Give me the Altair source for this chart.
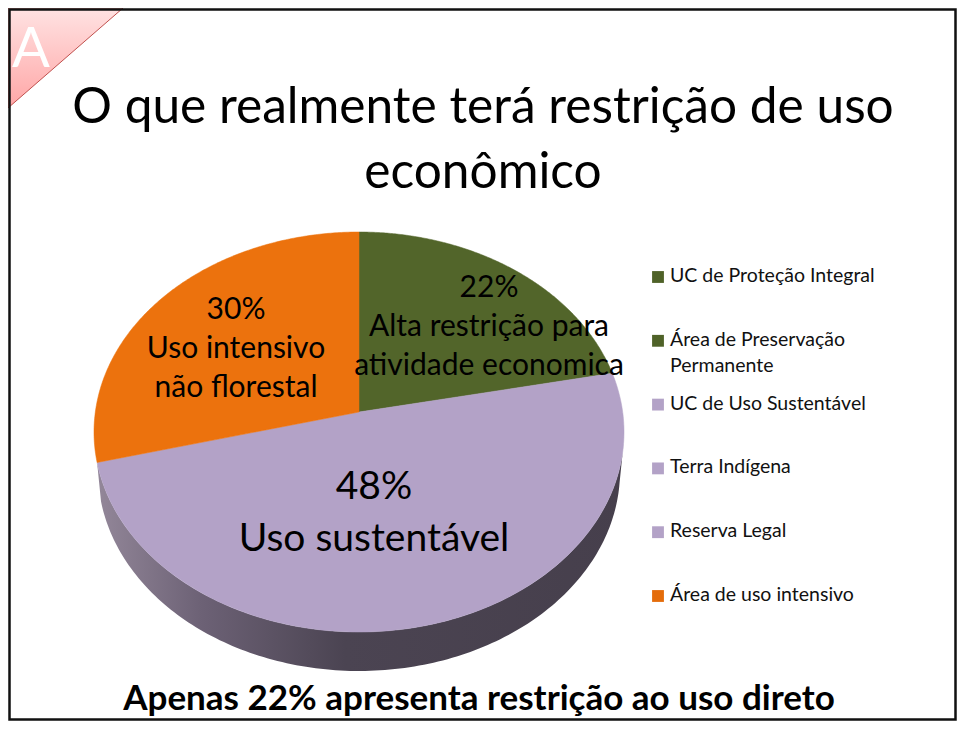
import numpy as np
import pandas as pd
import altair as alt

FONT = "Lato"
# ---- values
slice_names = ["Alta restrição", "Uso sustentável", "Uso intensivo"]
slice_shares = [21.8, 49.2, 29.0]
slice_colors = ["#52652a", "#b3a2c7", "#ec720d"]
legend_names = ["UC de Proteção Integral", "Área de Preservação\nPermanente", "UC de Uso Sustentável",
                "Terra Indígena", "Reserva Legal", "Área de uso intensivo"]
legend_colors = ["#4f6228", "#4f6228", "#b3a2c7", "#b3a2c7", "#b3a2c7", "#e46c0a"]
title_text = "O que realmente terá restrição de uso\neconômico"
footer_text = "Apenas 22% apresenta restrição ao uso direto"
label_22 = "22%\nAlta restrição para\natividade economica"
label_30 = "30%\nUso intensivo\nnão florestal"
label_48 = "48%\nUso sustentável"
corner_letter = "A"

W, H = 949, 713
OX, OY = 8, 8
K = 0.1            # perspective of the tilted disc


def project(theta_deg, shrink=1.0, drop=0.0):
    t = np.radians(theta_deg)
    X, Y = np.sin(t), -np.cos(t)
    w = 1 - K * Y
    return shrink * np.sqrt(0.99) * X / w, 0.99 * Y / w - K + drop


xs = alt.Scale(domain=[-1, 1], range=[94 - OX, 624 - OX])
ys = alt.Scale(domain=[-1, 1], range=[232 - OY, 632 - OY])
X = alt.X("x:Q", scale=xs, axis=None)
Y = alt.Y("y:Q", scale=ys, axis=None)

edges = np.cumsum([0] + slice_shares) * 3.6
layers = []

# side wall
a0, a1 = 99.0, edges[2]
th = np.linspace(a0, a1, 160)
tx, ty = project(th)
bx, by = project(th, 0.985, 0.195)
wall = pd.DataFrame({"x": np.r_[tx, bx[::-1], tx[0]], "y": np.r_[ty, by[::-1], ty[0]]})
wall["i"] = range(len(wall))
grad = alt.LinearGradient(gradient="linear", x1=0, x2=1, y1=0, y2=0, stops=[
    alt.GradientStop(color="#938799", offset=0), alt.GradientStop(color="#6c6175", offset=0.2),
    alt.GradientStop(color="#4b4452", offset=0.47), alt.GradientStop(color="#463f4c", offset=1)])
layers.append(alt.Chart(wall).mark_line(fill=grad, strokeWidth=0, interpolate="linear")
              .encode(x=X, y=Y, order="i:Q"))

# wedges
for i, (name, col) in enumerate(zip(slice_names, slice_colors)):
    th = np.linspace(edges[i], edges[i + 1], 200)
    ax, ay = project(th)
    hx, hy = 0.0, -K
    d = pd.DataFrame({"x": np.r_[hx, ax, hx], "y": np.r_[hy, ay, hy], "name": name})
    d["i"] = range(len(d))
    layers.append(alt.Chart(d).mark_line(fill=col, stroke=col, strokeWidth=0.5)
                  .encode(x=X, y=Y, order="i:Q", detail="name:N"))

# corner flag (page furniture, raw pixels)
flag = pd.DataFrame({"x": [0, 115, 0, 0], "y": [0, 0, 100, 0], "i": range(4)})
flag_grad = alt.LinearGradient(gradient="linear", x1=0, x2=0, y1=0, y2=1, stops=[
    alt.GradientStop(color="#ffe2e2", offset=0), alt.GradientStop(color="#ffa6a6", offset=1)])
layers.append(alt.Chart(flag).mark_line(fill=flag_grad, stroke="#c0504d", strokeWidth=1)
              .encode(x=alt.X("x:Q", scale=None, axis=None), y=alt.Y("y:Q", scale=None, axis=None), order="i:Q"))

# frame
one = pd.DataFrame({"a": [1]})
layers.append(alt.Chart(one).mark_rect(fillOpacity=0, stroke="#111111", strokeWidth=2.5)
              .encode(x=alt.value(1.5), x2=alt.value(947.5), y=alt.value(1.5), y2=alt.value(711.5)))


def txt(text, x, y, size, **kw):
    return alt.Chart(pd.DataFrame({"t": [text]})).mark_text(
        font=FONT, fontSize=size, lineBreak="\n", align="center", baseline="middle", **kw
    ).encode(text="t:N", x=alt.value(x - OX), y=alt.value(y - OY))


layers += [
    txt(corner_letter, 31, 50, 56, color="white"),
    txt(title_text, 483, 108, 49.6, lineHeight=65, color="black"),
    txt(label_22, 489, 288, 30, lineHeight=39, color="black"),
    txt(label_30, 236, 310, 30, lineHeight=39, color="black"),
    txt(label_48, 374, 487, 39, lineHeight=52, color="black"),
    txt(footer_text, 479, 699, 35, fontWeight="bold", color="black"),
]

# legend
leg = pd.DataFrame({"name": legend_names, "color": legend_colors})
ly = alt.Y("name:N", sort=None, axis=None,
           scale=alt.Scale(type="point", domain=legend_names, range=[277 - OY, 596 - OY], padding=0))
layers.append(alt.Chart(leg).mark_square(size=140, opacity=1)
              .encode(x=alt.value(658 - OX), y=ly,
                      color=alt.Color("color:N", scale=None, legend=None)))
layers.append(alt.Chart(leg).mark_text(font=FONT, fontSize=19.5, align="left", baseline="top", dy=-10,
                                       lineBreak="\n", lineHeight=26, color="#111111")
              .encode(x=alt.value(670 - OX), y=ly, text="name:N"))

chart = alt.layer(*layers).resolve_scale(x="independent", y="independent").properties(
    width=W, height=H, padding=0, autosize=alt.AutoSizeParams(type="none"),
    background="white"
).configure_view(stroke=None)

chart.save("out.html", embed_options={"renderer": "svg", "actions": False})
